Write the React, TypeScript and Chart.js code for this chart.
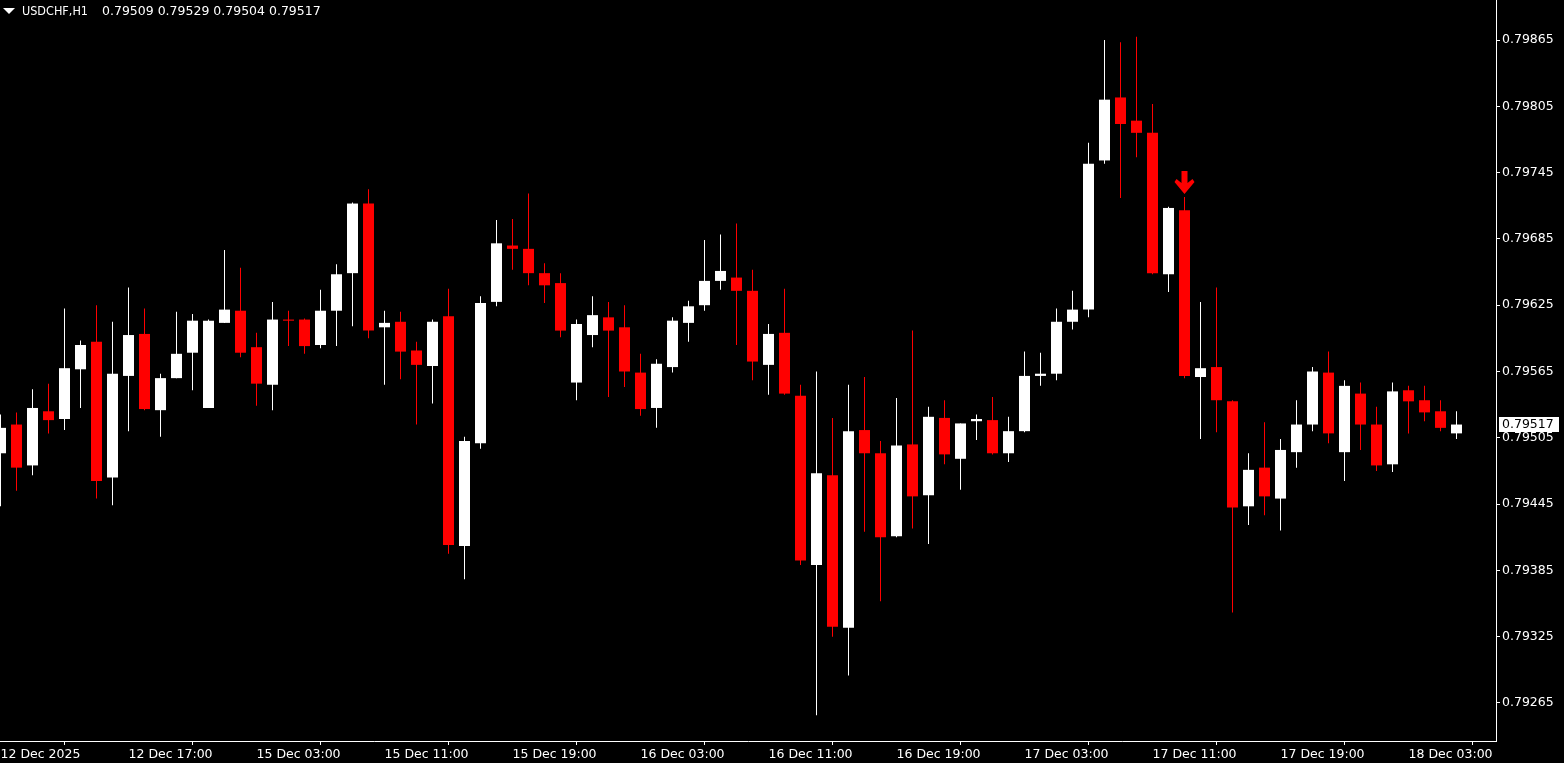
import React, { useEffect, useRef } from 'react';
import { Chart, registerables } from 'chart.js';

Chart.register(...registerables);

const symbolTitle = 'USDCHF,H1';
const titleValues = '0.79509 0.79529 0.79504 0.79517';

const opens = [
  0.79491, 0.79517, 0.7948, 0.79529, 0.79522, 0.79567, 0.79592, 0.79469, 0.79561, 0.79599,
  0.7953, 0.79559, 0.79582, 0.79532, 0.79609, 0.7962, 0.79587, 0.79553, 0.79612, 0.79612,
  0.79589, 0.7962, 0.79654, 0.79717, 0.79605, 0.7961, 0.79584, 0.7957, 0.79615, 0.79407,
  0.795, 0.79628, 0.79679, 0.79676, 0.79654, 0.79645, 0.79555, 0.79598, 0.79614, 0.79605,
  0.79564, 0.79532, 0.79569, 0.79609, 0.79625, 0.79647, 0.7965, 0.79638, 0.79571, 0.796,
  0.79543, 0.7939, 0.79471, 0.79333, 0.79512, 0.79491, 0.79416, 0.79499, 0.79453, 0.79523,
  0.79486, 0.7952, 0.79521, 0.79491, 0.79511, 0.79561, 0.79563, 0.7961, 0.79621, 0.79756,
  0.79813, 0.79792, 0.79781, 0.79653, 0.79711, 0.7956, 0.79569, 0.79538, 0.79443, 0.79478,
  0.7945, 0.79492, 0.79517, 0.79564, 0.79492, 0.79545, 0.79517, 0.79481, 0.79548, 0.79539,
  0.79529, 0.79509,
];
const highs = [
  0.79526, 0.79528, 0.79549, 0.79554, 0.79622, 0.79593, 0.79625, 0.7961, 0.79641, 0.79622,
  0.79563, 0.79619, 0.79617, 0.79612, 0.79675, 0.79659, 0.796, 0.79628, 0.7962, 0.79613,
  0.79639, 0.79662, 0.79718, 0.7973, 0.7962, 0.79619, 0.79592, 0.79612, 0.7964, 0.79506,
  0.79633, 0.79702, 0.79703, 0.79726, 0.79663, 0.79654, 0.79612, 0.79633, 0.79628, 0.79625,
  0.79581, 0.79576, 0.79614, 0.79629, 0.79684, 0.79689, 0.79699, 0.79657, 0.79608, 0.7964,
  0.79553, 0.79565, 0.79523, 0.79553, 0.7956, 0.79502, 0.79541, 0.79602, 0.79533, 0.79539,
  0.79518, 0.79526, 0.79542, 0.79524, 0.79583, 0.79582, 0.79622, 0.79638, 0.79772, 0.79865,
  0.79863, 0.79868, 0.79807, 0.79714, 0.79723, 0.79628, 0.79641, 0.79539, 0.79491, 0.79519,
  0.79504, 0.79539, 0.79569, 0.79583, 0.79557, 0.79555, 0.79533, 0.79555, 0.79552, 0.79552,
  0.79539, 0.79529,
];
const lows = [
  0.79443, 0.79457, 0.79471, 0.79509, 0.79512, 0.79532, 0.7945, 0.79444, 0.79511, 0.7953,
  0.79506, 0.79559, 0.79548, 0.79532, 0.79609, 0.79578, 0.79534, 0.7953, 0.79588, 0.79581,
  0.79586, 0.79588, 0.79606, 0.79595, 0.79553, 0.79558, 0.79517, 0.79536, 0.794, 0.79377,
  0.79495, 0.79624, 0.79657, 0.79643, 0.79627, 0.79596, 0.79539, 0.79587, 0.79542, 0.79551,
  0.79525, 0.79514, 0.79564, 0.79592, 0.7962, 0.79639, 0.79589, 0.79557, 0.79544, 0.79544,
  0.7939, 0.79254, 0.79325, 0.7929, 0.7942, 0.79357, 0.79415, 0.79423, 0.79409, 0.79481,
  0.79458, 0.79503, 0.7949, 0.79483, 0.7951, 0.79552, 0.79557, 0.79603, 0.79614, 0.79753,
  0.79722, 0.79759, 0.79653, 0.79637, 0.79559, 0.79504, 0.7951, 0.79347, 0.79426, 0.79435,
  0.79421, 0.79478, 0.79511, 0.795, 0.79466, 0.79494, 0.79475, 0.79474, 0.79509, 0.7952,
  0.79511, 0.79504,
];
const closes = [
  0.79514, 0.79478, 0.79532, 0.79521, 0.79568, 0.79589, 0.79466, 0.79563, 0.79598, 0.79531,
  0.79559, 0.79581, 0.79611, 0.79611, 0.79621, 0.79582, 0.79554, 0.79612, 0.79611, 0.79588,
  0.7962, 0.79653, 0.79717, 0.79602, 0.79609, 0.79583, 0.79571, 0.7961, 0.79408, 0.79502,
  0.79627, 0.79681, 0.79676, 0.79654, 0.79643, 0.79602, 0.79608, 0.79616, 0.79602, 0.79565,
  0.79531, 0.79572, 0.79611, 0.79624, 0.79647, 0.79656, 0.79638, 0.79574, 0.79599, 0.79545,
  0.79394, 0.79473, 0.79334, 0.79511, 0.79491, 0.79415, 0.79498, 0.79452, 0.79524, 0.7949,
  0.79518, 0.79522, 0.79491, 0.79511, 0.79561, 0.79563, 0.7961, 0.79621, 0.79753, 0.79811,
  0.79789, 0.79781, 0.79654, 0.79713, 0.79561, 0.79568, 0.79539, 0.79442, 0.79476, 0.79452,
  0.79494, 0.79517, 0.79565, 0.79509, 0.79552, 0.79517, 0.7948, 0.79547, 0.79538, 0.79528,
  0.79514, 0.79517,
];

const xTickIndex = [0, 8, 16, 24, 32, 40, 48, 56, 64, 72, 80, 88];
const xTickLabels = [
  '12 Dec 2025', '12 Dec 17:00', '15 Dec 03:00', '15 Dec 11:00', '15 Dec 19:00', '16 Dec 03:00',
  '16 Dec 11:00', '16 Dec 19:00', '17 Dec 03:00', '17 Dec 11:00', '17 Dec 19:00', '18 Dec 03:00',
];
const yTicks = [0.79865, 0.79805, 0.79745, 0.79685, 0.79625, 0.79565, 0.79505, 0.79445, 0.79385, 0.79325, 0.79265];

const currentPrice = 0.79517;
const signalIndex = 74;

const W = 1564;
const H = 763;
const PLOT_RIGHT = 1496;
const PLOT_BOTTOM = 741;
const BAR_STEP = 16;
const PX_PER_UNIT = 110500;
const REF_PRICE = 0.79865;
const REF_Y = 40;

const xMin = -0.5 / BAR_STEP;
const xMax = (PLOT_RIGHT - 0.5) / BAR_STEP;
const yMax = REF_PRICE + REF_Y / PX_PER_UNIT;
const yMin = REF_PRICE - (PLOT_BOTTOM - REF_Y) / PX_PER_UNIT;

const BULL = '#ffffff';
const BEAR = '#ff0000';
const FONT = 'DejaVu Sans';
const FONT_SIZE = 12.5;

function zeroPadding(s: any) {
  s.paddingTop = 0;
  s.paddingBottom = 0;
  s.paddingLeft = 0;
  s.paddingRight = 0;
}

export default function App() {
  const ref = useRef<HTMLCanvasElement | null>(null);

  useEffect(() => {
    document.body.style.margin = '0';
    document.body.style.background = '#000';
    const canvas = ref.current;
    if (!canvas) return;

    const colors = opens.map((o, i) => (closes[i] >= o ? BULL : BEAR));
    const wickData = lows.map((l, i) => ({ x: i, y: [l, highs[i]] }));
    const bodyData = opens.map((o, i) => ({ x: i, y: [Math.min(o, closes[i]), Math.max(o, closes[i])] }));

    const overlay = {
      id: 'mtOverlay',
      afterDraw(chart: any) {
        const ctx = chart.ctx as CanvasRenderingContext2D;
        const xs = chart.scales.x;
        const ys = chart.scales.y;
        ctx.save();
        // title
        ctx.fillStyle = '#ffffff';
        ctx.beginPath();
        ctx.moveTo(3, 8);
        ctx.lineTo(15, 8);
        ctx.lineTo(9, 14);
        ctx.closePath();
        ctx.fill();
        ctx.font = `${FONT_SIZE}px "${FONT}"`;
        ctx.textBaseline = 'middle';
        ctx.textAlign = 'left';
        ctx.fillText(symbolTitle, 22, 11.5, 66);
        ctx.fillText(titleValues, 102, 11.5);

        // signal arrow
        const ax = xs.getPixelForValue(signalIndex);
        const tip = ys.getPixelForValue(highs[signalIndex]) - 3;
        const t = tip - 23;
        ctx.fillStyle = BEAR;
        ctx.beginPath();
        ctx.moveTo(ax - 3, t);
        ctx.lineTo(ax + 3, t);
        ctx.lineTo(ax + 3, t + 12);
        ctx.lineTo(ax + 8, t + 8);
        ctx.lineTo(ax + 10, t + 11);
        ctx.lineTo(ax, t + 23);
        ctx.lineTo(ax - 10, t + 11);
        ctx.lineTo(ax - 8, t + 8);
        ctx.lineTo(ax - 3, t + 12);
        ctx.closePath();
        ctx.fill();

        // current price box
        const py = ys.getPixelForValue(currentPrice);
        ctx.fillStyle = '#ffffff';
        ctx.fillRect(1499, Math.round(py - 7.5), 60, 15);
        ctx.fillStyle = '#000000';
        ctx.fillText(currentPrice.toFixed(5), 1502, py + 0.5);
        ctx.restore();
      },
    };

    const tickFont = { family: FONT, size: FONT_SIZE };

    const chart = new Chart(canvas, {
      type: 'bar',
      data: {
        datasets: [
          {
            label: 'wick',
            data: wickData as any,
            backgroundColor: colors,
            borderWidth: 0,
            barThickness: 1,
            maxBarThickness: 1,
            grouped: false,
            inflateAmount: 0,
            order: 2,
            clip: 0,
          } as any,
          {
            label: 'body',
            data: bodyData as any,
            backgroundColor: colors,
            borderWidth: 0,
            barThickness: 11,
            maxBarThickness: 11,
            minBarLength: 1,
            grouped: false,
            inflateAmount: 0,
            order: 1,
            clip: 0,
          } as any,
        ],
      },
      options: {
        responsive: false,
        animation: false,
        events: [],
        layout: { padding: 0 },
        plugins: {
          legend: { display: false },
          tooltip: { enabled: false },
          title: { display: false },
        },
        scales: {
          x: {
            type: 'linear',
            min: xMin,
            max: xMax,
            offset: false,
            afterFit: (s: any) => {
              s.height = H - PLOT_BOTTOM;
              zeroPadding(s);
            },
            afterBuildTicks: (s: any) => {
              s.ticks = xTickIndex.map((v) => ({ value: v }));
            },
            ticks: {
              callback: (_v: any, i: number) => xTickLabels[i],
              align: 'start',
              autoSkip: false,
              maxRotation: 0,
              minRotation: 0,
              color: '#ffffff',
              font: tickFont,
              padding: 2,
            },
            grid: { drawOnChartArea: false, drawTicks: true, tickLength: 4, color: '#ffffff' },
            border: { display: true, color: '#ffffff', width: 1 },
          } as any,
          y: {
            type: 'linear',
            position: 'right',
            min: yMin,
            max: yMax,
            afterFit: (s: any) => {
              s.width = W - PLOT_RIGHT;
              zeroPadding(s);
            },
            afterBuildTicks: (s: any) => {
              s.ticks = yTicks.map((v) => ({ value: v }));
            },
            ticks: {
              callback: (v: any) => Number(v).toFixed(5),
              autoSkip: false,
              color: '#ffffff',
              font: tickFont,
              padding: 2,
            },
            grid: { drawOnChartArea: false, drawTicks: true, tickLength: 4, color: '#ffffff' },
            border: { display: true, color: '#ffffff', width: 1 },
          } as any,
        },
      },
      plugins: [overlay],
    });

    return () => {
      chart.destroy();
    };
  }, []);

  return (
    <div style={{ width: W, height: H, background: '#000', overflow: 'hidden' }}>
      <canvas ref={ref} width={W} height={H} style={{ display: 'block', width: W, height: H }} />
    </div>
  );
}
